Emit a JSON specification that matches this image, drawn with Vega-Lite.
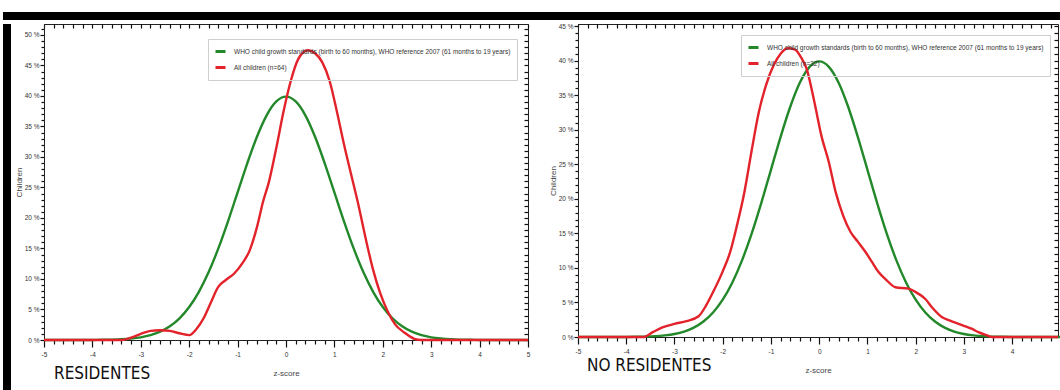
{
  "$schema": "https://vega.github.io/schema/vega-lite/v6.json",
  "background": "white",
  "padding": {"left": 3, "top": 12, "right": 0, "bottom": 0},
  "spacing": 2,
  "config": {
    "view": {"stroke": null},
    "axis": {
      "grid": false,
      "ticks": true,
      "labelFont": "Liberation Sans",
      "labelFontSize": 6.5,
      "labelColor": "#333333",
      "labelFlush": false,
      "labelOverlap": false,
      "tickCount": 200,
      "tickWidth": 1.2,
      "tickOpacity": 1,
      "domainColor": "#222222",
      "tickColor": "#111111",
      "titleFont": "Liberation Sans",
      "titleFontWeight": "normal",
      "titleColor": "#444444",
      "titleFontSize": 8
    },
    "legend": {
      "title": null,
      "orient": "none",
      "symbolType": "stroke",
      "symbolStrokeWidth": 3,
      "symbolSize": 100,
      "labelFont": "Liberation Sans",
      "labelFontSize": 6.5,
      "labelColor": "#333333",
      "labelLimit": 500,
      "labelOffset": 7,
      "padding": 6,
      "rowPadding": 3,
      "strokeColor": "#cfcfcf",
      "cornerRadius": 0
    },
    "title": {
      "font": "'Liberation Sans Narrow', 'DejaVu Sans Condensed', sans-serif",
      "fontSize": 17,
      "fontWeight": "normal",
      "color": "#111111",
      "orient": "bottom",
      "anchor": "start",
      "frame": "group",
      "baseline": "top"
    }
  },
  "datasets": {
    "who": [
      {"series": "WHO child growth standards (birth to 60 months), WHO reference 2007 (61 months to 19 years)", "z": -5, "pct": 0},
      {"series": "WHO child growth standards (birth to 60 months), WHO reference 2007 (61 months to 19 years)", "z": -4.4, "pct": 0},
      {"series": "WHO child growth standards (birth to 60 months), WHO reference 2007 (61 months to 19 years)", "z": -4.0, "pct": 0.01},
      {"series": "WHO child growth standards (birth to 60 months), WHO reference 2007 (61 months to 19 years)", "z": -3.8, "pct": 0.03},
      {"series": "WHO child growth standards (birth to 60 months), WHO reference 2007 (61 months to 19 years)", "z": -3.6, "pct": 0.06},
      {"series": "WHO child growth standards (birth to 60 months), WHO reference 2007 (61 months to 19 years)", "z": -3.4, "pct": 0.12},
      {"series": "WHO child growth standards (birth to 60 months), WHO reference 2007 (61 months to 19 years)", "z": -3.2, "pct": 0.24},
      {"series": "WHO child growth standards (birth to 60 months), WHO reference 2007 (61 months to 19 years)", "z": -3.0, "pct": 0.44},
      {"series": "WHO child growth standards (birth to 60 months), WHO reference 2007 (61 months to 19 years)", "z": -2.8, "pct": 0.79},
      {"series": "WHO child growth standards (birth to 60 months), WHO reference 2007 (61 months to 19 years)", "z": -2.6, "pct": 1.36},
      {"series": "WHO child growth standards (birth to 60 months), WHO reference 2007 (61 months to 19 years)", "z": -2.4, "pct": 2.24},
      {"series": "WHO child growth standards (birth to 60 months), WHO reference 2007 (61 months to 19 years)", "z": -2.2, "pct": 3.55},
      {"series": "WHO child growth standards (birth to 60 months), WHO reference 2007 (61 months to 19 years)", "z": -2.0, "pct": 5.4},
      {"series": "WHO child growth standards (birth to 60 months), WHO reference 2007 (61 months to 19 years)", "z": -1.8, "pct": 7.9},
      {"series": "WHO child growth standards (birth to 60 months), WHO reference 2007 (61 months to 19 years)", "z": -1.6, "pct": 11.09},
      {"series": "WHO child growth standards (birth to 60 months), WHO reference 2007 (61 months to 19 years)", "z": -1.4, "pct": 14.97},
      {"series": "WHO child growth standards (birth to 60 months), WHO reference 2007 (61 months to 19 years)", "z": -1.2, "pct": 19.42},
      {"series": "WHO child growth standards (birth to 60 months), WHO reference 2007 (61 months to 19 years)", "z": -1.0, "pct": 24.2},
      {"series": "WHO child growth standards (birth to 60 months), WHO reference 2007 (61 months to 19 years)", "z": -0.8, "pct": 28.97},
      {"series": "WHO child growth standards (birth to 60 months), WHO reference 2007 (61 months to 19 years)", "z": -0.6, "pct": 33.32},
      {"series": "WHO child growth standards (birth to 60 months), WHO reference 2007 (61 months to 19 years)", "z": -0.4, "pct": 36.83},
      {"series": "WHO child growth standards (birth to 60 months), WHO reference 2007 (61 months to 19 years)", "z": -0.2, "pct": 39.1},
      {"series": "WHO child growth standards (birth to 60 months), WHO reference 2007 (61 months to 19 years)", "z": 0, "pct": 39.89},
      {"series": "WHO child growth standards (birth to 60 months), WHO reference 2007 (61 months to 19 years)", "z": 0.2, "pct": 39.1},
      {"series": "WHO child growth standards (birth to 60 months), WHO reference 2007 (61 months to 19 years)", "z": 0.4, "pct": 36.83},
      {"series": "WHO child growth standards (birth to 60 months), WHO reference 2007 (61 months to 19 years)", "z": 0.6, "pct": 33.32},
      {"series": "WHO child growth standards (birth to 60 months), WHO reference 2007 (61 months to 19 years)", "z": 0.8, "pct": 28.97},
      {"series": "WHO child growth standards (birth to 60 months), WHO reference 2007 (61 months to 19 years)", "z": 1.0, "pct": 24.2},
      {"series": "WHO child growth standards (birth to 60 months), WHO reference 2007 (61 months to 19 years)", "z": 1.2, "pct": 19.42},
      {"series": "WHO child growth standards (birth to 60 months), WHO reference 2007 (61 months to 19 years)", "z": 1.4, "pct": 14.97},
      {"series": "WHO child growth standards (birth to 60 months), WHO reference 2007 (61 months to 19 years)", "z": 1.6, "pct": 11.09},
      {"series": "WHO child growth standards (birth to 60 months), WHO reference 2007 (61 months to 19 years)", "z": 1.8, "pct": 7.9},
      {"series": "WHO child growth standards (birth to 60 months), WHO reference 2007 (61 months to 19 years)", "z": 2.0, "pct": 5.4},
      {"series": "WHO child growth standards (birth to 60 months), WHO reference 2007 (61 months to 19 years)", "z": 2.2, "pct": 3.55},
      {"series": "WHO child growth standards (birth to 60 months), WHO reference 2007 (61 months to 19 years)", "z": 2.4, "pct": 2.24},
      {"series": "WHO child growth standards (birth to 60 months), WHO reference 2007 (61 months to 19 years)", "z": 2.6, "pct": 1.36},
      {"series": "WHO child growth standards (birth to 60 months), WHO reference 2007 (61 months to 19 years)", "z": 2.8, "pct": 0.79},
      {"series": "WHO child growth standards (birth to 60 months), WHO reference 2007 (61 months to 19 years)", "z": 3.0, "pct": 0.44},
      {"series": "WHO child growth standards (birth to 60 months), WHO reference 2007 (61 months to 19 years)", "z": 3.2, "pct": 0.24},
      {"series": "WHO child growth standards (birth to 60 months), WHO reference 2007 (61 months to 19 years)", "z": 3.4, "pct": 0.12},
      {"series": "WHO child growth standards (birth to 60 months), WHO reference 2007 (61 months to 19 years)", "z": 3.6, "pct": 0.06},
      {"series": "WHO child growth standards (birth to 60 months), WHO reference 2007 (61 months to 19 years)", "z": 3.8, "pct": 0.03},
      {"series": "WHO child growth standards (birth to 60 months), WHO reference 2007 (61 months to 19 years)", "z": 4.0, "pct": 0.01},
      {"series": "WHO child growth standards (birth to 60 months), WHO reference 2007 (61 months to 19 years)", "z": 4.4, "pct": 0},
      {"series": "WHO child growth standards (birth to 60 months), WHO reference 2007 (61 months to 19 years)", "z": 4.95, "pct": 0},
      {"series": "WHO child growth standards (birth to 60 months), WHO reference 2007 (61 months to 19 years)", "z": 5, "pct": 0}
    ],
    "residentes": [
      {"series": "All children (n=64)", "z": -5, "pct": 0},
      {"series": "All children (n=64)", "z": -3.4, "pct": 0},
      {"series": "All children (n=64)", "z": -3.2, "pct": 0.4},
      {"series": "All children (n=64)", "z": -3.0, "pct": 1.0},
      {"series": "All children (n=64)", "z": -2.8, "pct": 1.5},
      {"series": "All children (n=64)", "z": -2.6, "pct": 1.6},
      {"series": "All children (n=64)", "z": -2.4, "pct": 1.5},
      {"series": "All children (n=64)", "z": -2.2, "pct": 1.1},
      {"series": "All children (n=64)", "z": -2.0, "pct": 0.8},
      {"series": "All children (n=64)", "z": -1.85, "pct": 1.8},
      {"series": "All children (n=64)", "z": -1.7, "pct": 3.6},
      {"series": "All children (n=64)", "z": -1.55, "pct": 6.2},
      {"series": "All children (n=64)", "z": -1.4, "pct": 8.7},
      {"series": "All children (n=64)", "z": -1.25, "pct": 9.8},
      {"series": "All children (n=64)", "z": -1.07, "pct": 10.9},
      {"series": "All children (n=64)", "z": -0.9, "pct": 12.6},
      {"series": "All children (n=64)", "z": -0.75, "pct": 14.7},
      {"series": "All children (n=64)", "z": -0.6, "pct": 18.5},
      {"series": "All children (n=64)", "z": -0.48, "pct": 22.5},
      {"series": "All children (n=64)", "z": -0.35, "pct": 26},
      {"series": "All children (n=64)", "z": -0.2, "pct": 31.5},
      {"series": "All children (n=64)", "z": -0.05, "pct": 37.5},
      {"series": "All children (n=64)", "z": 0.1, "pct": 42.5},
      {"series": "All children (n=64)", "z": 0.25, "pct": 46},
      {"series": "All children (n=64)", "z": 0.45, "pct": 47.5},
      {"series": "All children (n=64)", "z": 0.6, "pct": 47},
      {"series": "All children (n=64)", "z": 0.75, "pct": 45.5},
      {"series": "All children (n=64)", "z": 0.9, "pct": 42.5},
      {"series": "All children (n=64)", "z": 1.05, "pct": 37.5},
      {"series": "All children (n=64)", "z": 1.2, "pct": 32},
      {"series": "All children (n=64)", "z": 1.35, "pct": 27},
      {"series": "All children (n=64)", "z": 1.5, "pct": 22},
      {"series": "All children (n=64)", "z": 1.65, "pct": 16.5},
      {"series": "All children (n=64)", "z": 1.8, "pct": 11.5},
      {"series": "All children (n=64)", "z": 1.95, "pct": 7.6},
      {"series": "All children (n=64)", "z": 2.1, "pct": 4.7},
      {"series": "All children (n=64)", "z": 2.25, "pct": 2.6},
      {"series": "All children (n=64)", "z": 2.45, "pct": 1.2},
      {"series": "All children (n=64)", "z": 2.65, "pct": 0.2},
      {"series": "All children (n=64)", "z": 2.8, "pct": 0},
      {"series": "All children (n=64)", "z": 5, "pct": 0}
    ],
    "noResidentes": [
      {"series": "All children (n=32)", "z": -5, "pct": 0},
      {"series": "All children (n=32)", "z": -3.65, "pct": 0},
      {"series": "All children (n=32)", "z": -3.45, "pct": 0.7},
      {"series": "All children (n=32)", "z": -3.25, "pct": 1.4},
      {"series": "All children (n=32)", "z": -3.0, "pct": 1.9},
      {"series": "All children (n=32)", "z": -2.75, "pct": 2.3},
      {"series": "All children (n=32)", "z": -2.5, "pct": 3.0},
      {"series": "All children (n=32)", "z": -2.35, "pct": 4.5},
      {"series": "All children (n=32)", "z": -2.2, "pct": 6.5},
      {"series": "All children (n=32)", "z": -2.0, "pct": 9.5},
      {"series": "All children (n=32)", "z": -1.85, "pct": 12.2},
      {"series": "All children (n=32)", "z": -1.7, "pct": 16.3},
      {"series": "All children (n=32)", "z": -1.55, "pct": 21},
      {"series": "All children (n=32)", "z": -1.4, "pct": 27},
      {"series": "All children (n=32)", "z": -1.25, "pct": 32.6},
      {"series": "All children (n=32)", "z": -1.1, "pct": 36.5},
      {"series": "All children (n=32)", "z": -0.94, "pct": 39.4},
      {"series": "All children (n=32)", "z": -0.8, "pct": 41},
      {"series": "All children (n=32)", "z": -0.65, "pct": 41.8},
      {"series": "All children (n=32)", "z": -0.5, "pct": 41.6},
      {"series": "All children (n=32)", "z": -0.38, "pct": 40.5},
      {"series": "All children (n=32)", "z": -0.26, "pct": 38.8},
      {"series": "All children (n=32)", "z": -0.1, "pct": 34},
      {"series": "All children (n=32)", "z": 0.05, "pct": 29},
      {"series": "All children (n=32)", "z": 0.2, "pct": 25.3},
      {"series": "All children (n=32)", "z": 0.34, "pct": 21},
      {"series": "All children (n=32)", "z": 0.5, "pct": 17.5},
      {"series": "All children (n=32)", "z": 0.65, "pct": 15.2},
      {"series": "All children (n=32)", "z": 0.8, "pct": 13.8},
      {"series": "All children (n=32)", "z": 0.96, "pct": 12.3},
      {"series": "All children (n=32)", "z": 1.1, "pct": 10.8},
      {"series": "All children (n=32)", "z": 1.23, "pct": 9.4},
      {"series": "All children (n=32)", "z": 1.4, "pct": 8.2},
      {"series": "All children (n=32)", "z": 1.58, "pct": 7.2},
      {"series": "All children (n=32)", "z": 1.85, "pct": 7.0},
      {"series": "All children (n=32)", "z": 2.0, "pct": 6.5},
      {"series": "All children (n=32)", "z": 2.2, "pct": 5.5},
      {"series": "All children (n=32)", "z": 2.35, "pct": 4.2},
      {"series": "All children (n=32)", "z": 2.54, "pct": 2.9},
      {"series": "All children (n=32)", "z": 2.7, "pct": 2.4},
      {"series": "All children (n=32)", "z": 2.89, "pct": 1.9},
      {"series": "All children (n=32)", "z": 3.05, "pct": 1.5},
      {"series": "All children (n=32)", "z": 3.16, "pct": 1.2},
      {"series": "All children (n=32)", "z": 3.3, "pct": 0.7},
      {"series": "All children (n=32)", "z": 3.45, "pct": 0.3},
      {"series": "All children (n=32)", "z": 3.58, "pct": 0},
      {"series": "All children (n=32)", "z": 4.95, "pct": 0}
    ]
  },
  "vconcat": [
    {
      "width": 1057,
      "height": 8,
      "view": {"fill": "black", "stroke": null},
      "data": {"values": []},
      "mark": "point",
      "encoding": {}
    },
    {
      "spacing": 3,
      "hconcat": [
        {
          "width": 8,
          "height": 366,
          "view": {"fill": "black", "stroke": null},
          "data": {"values": []},
          "mark": "point",
          "encoding": {}
        },
        {
          "spacing": 14,
          "resolve": {"scale": {"color": "independent"}, "legend": {"color": "independent"}},
          "hconcat": [
            {
              "width": 484,
              "height": 316,
              "view": {"stroke": "#222222"},
              "title": {"text": "RESIDENTES", "offset": -12, "dx": 10},
              "resolve": {"axis": {"x": "independent", "y": "independent"}},
              "layer": [
                {
                  "data": {"name": "who"},
                  "mark": {"type": "line", "interpolate": "monotone", "strokeWidth": 2.4},
                  "encoding": {
                    "x": {
                      "field": "z", "type": "quantitative",
                      "scale": {"domain": [-5, 5], "nice": false, "zero": false},
                      "axis": {
                        "orient": "bottom",
                        "values": [-5, -4.8, -4.6, -4.4, -4.2, -4, -3.8, -3.6, -3.4, -3.2, -3, -2.8, -2.6, -2.4, -2.2, -2, -1.8, -1.6, -1.4, -1.2, -1, -0.8, -0.6, -0.4, -0.2, 0, 0.2, 0.4, 0.6, 0.8, 1, 1.2, 1.4, 1.6, 1.8, 2, 2.2, 2.4, 2.6, 2.8, 3, 3.2, 3.4, 3.6, 3.8, 4, 4.2, 4.4, 4.6, 4.8, 5],
                        "tickSize": {"condition": {"test": "datum.value % 1 === 0", "value": 7}, "value": 4},
                        "labelPadding": 4,
                        "labelExpr": "datum.value % 1 === 0 ? '' + datum.value : ''",
                        "title": "z-score",
                        "titlePadding": 12
                      }
                    },
                    "y": {
                      "field": "pct", "type": "quantitative",
                      "scale": {"domain": [0, 51.8], "nice": false, "zero": false},
                      "axis": {
                        "orient": "left",
                        "values": [0, 1, 2, 3, 4, 5, 6, 7, 8, 9, 10, 11, 12, 13, 14, 15, 16, 17, 18, 19, 20, 21, 22, 23, 24, 25, 26, 27, 28, 29, 30, 31, 32, 33, 34, 35, 36, 37, 38, 39, 40, 41, 42, 43, 44, 45, 46, 47, 48, 49, 50, 51],
                        "tickSize": {"condition": {"test": "datum.value % 5 === 0", "value": 4}, "value": 3},
                        "labelPadding": 1,
                        "labelExpr": "datum.value % 5 === 0 ? datum.value + ' %' : ''",
                        "title": "Children",
                        "titlePadding": 1
                      }
                    },
                    "color": {
                      "field": "series", "type": "nominal",
                      "scale": {"domain": ["WHO child growth standards (birth to 60 months), WHO reference 2007 (61 months to 19 years)", "All children (n=64)"], "range": ["#23882a", "#e2232b"]},
                      "legend": {"legendX": 164, "legendY": 15}
                    }
                  }
                },
                {
                  "data": {"name": "residentes"},
                  "mark": {"type": "line", "interpolate": "monotone", "strokeWidth": 2.4},
                  "encoding": {
                    "x": {
                      "field": "z", "type": "quantitative",
                      "scale": {"domain": [-5, 5], "nice": false, "zero": false},
                      "axis": {"orient": "top", "offset": -4, "values": [-5, -4.8, -4.6, -4.4, -4.2, -4, -3.8, -3.6, -3.4, -3.2, -3, -2.8, -2.6, -2.4, -2.2, -2, -1.8, -1.6, -1.4, -1.2, -1, -0.8, -0.6, -0.4, -0.2, 0, 0.2, 0.4, 0.6, 0.8, 1, 1.2, 1.4, 1.6, 1.8, 2, 2.2, 2.4, 2.6, 2.8, 3, 3.2, 3.4, 3.6, 3.8, 4, 4.2, 4.4, 4.6, 4.8, 5], "tickSize": 4, "labels": false, "domain": false, "title": null}
                    },
                    "y": {
                      "field": "pct", "type": "quantitative",
                      "scale": {"domain": [0, 51.8], "nice": false, "zero": false},
                      "axis": {"orient": "right", "offset": -4, "values": [0, 1, 2, 3, 4, 5, 6, 7, 8, 9, 10, 11, 12, 13, 14, 15, 16, 17, 18, 19, 20, 21, 22, 23, 24, 25, 26, 27, 28, 29, 30, 31, 32, 33, 34, 35, 36, 37, 38, 39, 40, 41, 42, 43, 44, 45, 46, 47, 48, 49, 50, 51], "tickSize": 4, "labels": false, "domain": false, "title": null}
                    },
                    "color": {
                      "field": "series", "type": "nominal",
                      "scale": {"domain": ["WHO child growth standards (birth to 60 months), WHO reference 2007 (61 months to 19 years)", "All children (n=64)"], "range": ["#23882a", "#e2232b"]}
                    }
                  }
                }
              ]
            },
            {
              "width": 480,
              "height": 313,
              "view": {"stroke": "#222222"},
              "title": {"text": "NO RESIDENTES", "offset": -17, "dx": 9},
              "resolve": {"axis": {"x": "independent", "y": "independent"}},
              "layer": [
                {
                  "data": {"name": "who"},
                  "mark": {"type": "line", "interpolate": "monotone", "strokeWidth": 2.4},
                  "encoding": {
                    "x": {
                      "field": "z", "type": "quantitative",
                      "scale": {"domain": [-5, 4.95], "nice": false, "zero": false},
                      "axis": {
                        "orient": "bottom",
                        "values": [-5, -4.8, -4.6, -4.4, -4.2, -4, -3.8, -3.6, -3.4, -3.2, -3, -2.8, -2.6, -2.4, -2.2, -2, -1.8, -1.6, -1.4, -1.2, -1, -0.8, -0.6, -0.4, -0.2, 0, 0.2, 0.4, 0.6, 0.8, 1, 1.2, 1.4, 1.6, 1.8, 2, 2.2, 2.4, 2.6, 2.8, 3, 3.2, 3.4, 3.6, 3.8, 4, 4.2, 4.4, 4.6, 4.8],
                        "tickSize": {"condition": {"test": "datum.value % 1 === 0", "value": 7}, "value": 4},
                        "labelPadding": 4,
                        "labelExpr": "datum.value % 1 === 0 ? '' + datum.value : ''",
                        "title": "z-score",
                        "titlePadding": 12
                      }
                    },
                    "y": {
                      "field": "pct", "type": "quantitative",
                      "scale": {"domain": [0, 45.3], "nice": false, "zero": false},
                      "axis": {
                        "orient": "left",
                        "values": [0, 1, 2, 3, 4, 5, 6, 7, 8, 9, 10, 11, 12, 13, 14, 15, 16, 17, 18, 19, 20, 21, 22, 23, 24, 25, 26, 27, 28, 29, 30, 31, 32, 33, 34, 35, 36, 37, 38, 39, 40, 41, 42, 43, 44, 45],
                        "tickSize": {"condition": {"test": "datum.value % 5 === 0", "value": 4}, "value": 3},
                        "labelPadding": 1,
                        "labelExpr": "datum.value % 5 === 0 ? datum.value + ' %' : ''",
                        "title": "Children",
                        "titlePadding": 1
                      }
                    },
                    "color": {
                      "field": "series", "type": "nominal",
                      "scale": {"domain": ["WHO child growth standards (birth to 60 months), WHO reference 2007 (61 months to 19 years)", "All children (n=32)"], "range": ["#23882a", "#e2232b"]},
                      "legend": {"legendX": 163, "legendY": 11}
                    }
                  }
                },
                {
                  "data": {"name": "noResidentes"},
                  "mark": {"type": "line", "interpolate": "monotone", "strokeWidth": 2.4},
                  "encoding": {
                    "x": {
                      "field": "z", "type": "quantitative",
                      "scale": {"domain": [-5, 4.95], "nice": false, "zero": false},
                      "axis": {"orient": "top", "offset": -4, "values": [-5, -4.8, -4.6, -4.4, -4.2, -4, -3.8, -3.6, -3.4, -3.2, -3, -2.8, -2.6, -2.4, -2.2, -2, -1.8, -1.6, -1.4, -1.2, -1, -0.8, -0.6, -0.4, -0.2, 0, 0.2, 0.4, 0.6, 0.8, 1, 1.2, 1.4, 1.6, 1.8, 2, 2.2, 2.4, 2.6, 2.8, 3, 3.2, 3.4, 3.6, 3.8, 4, 4.2, 4.4, 4.6, 4.8], "tickSize": 4, "labels": false, "domain": false, "title": null}
                    },
                    "y": {
                      "field": "pct", "type": "quantitative",
                      "scale": {"domain": [0, 45.3], "nice": false, "zero": false},
                      "axis": {"orient": "right", "offset": -4, "values": [0, 1, 2, 3, 4, 5, 6, 7, 8, 9, 10, 11, 12, 13, 14, 15, 16, 17, 18, 19, 20, 21, 22, 23, 24, 25, 26, 27, 28, 29, 30, 31, 32, 33, 34, 35, 36, 37, 38, 39, 40, 41, 42, 43, 44, 45], "tickSize": 4, "labels": false, "domain": false, "title": null}
                    },
                    "color": {
                      "field": "series", "type": "nominal",
                      "scale": {"domain": ["WHO child growth standards (birth to 60 months), WHO reference 2007 (61 months to 19 years)", "All children (n=32)"], "range": ["#23882a", "#e2232b"]}
                    }
                  }
                }
              ]
            }
          ]
        }
      ]
    }
  ]
}
